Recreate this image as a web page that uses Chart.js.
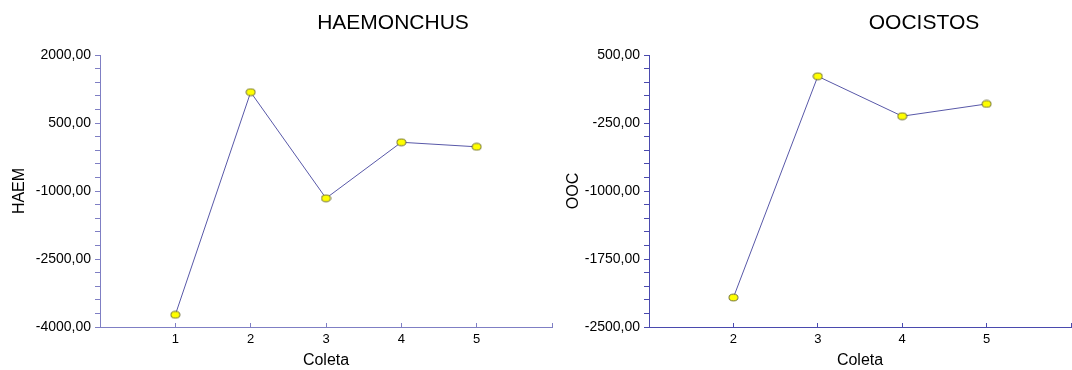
<!DOCTYPE html>
<html>
<head>
<meta charset="utf-8">
<script src="https://cdn.jsdelivr.net/npm/chart.js@4/dist/chart.umd.min.js"></script>
<style>
  html, body { margin: 0; padding: 0; background: #ffffff; overflow: hidden; width: 1072px; height: 370px; }
  canvas { position: absolute; top: 0; }
  #haem { left: 0; }
  #ooc { left: 560px; }
</style>
</head>
<body>
<canvas id="haem" width="570" height="370"></canvas>
<canvas id="ooc" width="520" height="370"></canvas>
<script>
// Collection number (Coleta) for each panel
const haemColeta = [1, 2, 3, 4, 5];
const oocColeta = [2, 3, 4, 5];

// Values per collection
const haemValues = [-3730, 1180, -1160, 75, -25];
const oocValues = [-2175, 265, -175, -40];

// Panel titles and axis titles
const haemTitle = 'HAEMONCHUS';
const oocTitle = 'OOCISTOS';
const haemAxisTitle = 'HAEM';
const oocAxisTitle = 'OOC';
const xAxisTitle = 'Coleta';

const FONT = "'Liberation Sans', Arial, sans-serif";

// Yellow elliptical marker with a dark outline
function makeMarker() {
  const c = document.createElement('canvas');
  c.width = 11; c.height = 9;
  const g = c.getContext('2d');
  g.beginPath();
  g.ellipse(5.5, 4.5, 4.5, 3.4, 0, 0, Math.PI * 2);
  g.fillStyle = '#ffff00';
  g.fill();
  g.lineWidth = 1;
  g.strokeStyle = '#6e6e3c';
  g.stroke();
  return c;
}
const marker = makeMarker();

// Draws the panel heading at a fixed spot above the plot
const panelTitle = {
  id: 'panelTitle',
  afterDraw(chart, args, opts) {
    const ctx = chart.ctx;
    ctx.save();
    ctx.font = '21px ' + FONT;
    ctx.fillStyle = '#000000';
    ctx.textAlign = 'center';
    ctx.textBaseline = 'alphabetic';
    ctx.fillText(opts.text, opts.x, opts.y);
    ctx.restore();
  }
};

function fmt(v) {
  return v.toFixed(2).replace('.', ',');
}

function buildChart(id, xs, ys, cfg) {
  const points = xs.map((x, i) => ({ x: x, y: ys[i] }));
  return new Chart(document.getElementById(id), {
    type: 'line',
    data: {
      datasets: [{
        data: points,
        borderColor: '#5858a8',
        borderWidth: 1,
        pointStyle: marker,
        pointRadius: 5,
        pointHoverRadius: 5,
        tension: 0,
        fill: false
      }]
    },
    plugins: [panelTitle],
    options: {
      responsive: false,
      animation: false,
      events: [],
      layout: { padding: { top: 55, right: cfg.padRight, bottom: 0, left: 0 } },
      plugins: {
        legend: { display: false },
        tooltip: { enabled: false },
        title: { display: false },
        panelTitle: { text: cfg.title, x: cfg.titleX, y: 29 }
      },
      scales: {
        x: {
          type: 'linear',
          min: cfg.xMin,
          max: 6,
          afterFit: s => { s.height = 43; },
          grid: {
            drawOnChartArea: false,
            drawTicks: true,
            tickLength: -4,
            color: cfg.axisColor,
            lineWidth: 1
          },
          border: { color: cfg.axisColor, width: 1 },
          ticks: {
            stepSize: 1,
            autoSkip: false,
            maxRotation: 0,
            padding: 9,
            color: '#000000',
            font: { family: FONT, size: 13 },
            callback: v => (v > cfg.xMin && v < 6) ? String(v) : ''
          },
          title: {
            display: true,
            text: xAxisTitle,
            color: '#000000',
            font: { family: FONT, size: 16 },
            padding: { top: 1, bottom: 0 }
          }
        },
        y: {
          type: 'linear',
          min: cfg.yMin,
          max: cfg.yMax,
          afterFit: s => { s.width = cfg.yWidth; },
          grid: {
            drawOnChartArea: false,
            drawTicks: true,
            tickLength: 5,
            color: cfg.axisColor,
            lineWidth: 1
          },
          border: { color: cfg.axisColor, width: 1 },
          ticks: {
            stepSize: cfg.minorStep,
            maxTicksLimit: 40,
            autoSkip: false,
            padding: 4,
            color: '#000000',
            font: { family: FONT, size: 14 },
            callback: v => {
              const k = Math.round((v - cfg.yMin) / cfg.minorStep);
              return k % 5 === 0 ? fmt(v) : '';
            }
          },
          title: {
            display: true,
            text: cfg.axisTitle,
            color: '#000000',
            font: { family: FONT, size: 16 },
            padding: { top: cfg.yTitlePad, bottom: 0 }
          }
        }
      }
    }
  });
}

buildChart('haem', haemColeta, haemValues, {
  title: haemTitle, titleX: 393, axisTitle: haemAxisTitle,
  xMin: 0, yMin: -4000, yMax: 2000, minorStep: 300,
  yWidth: 100, padRight: 18, yTitlePad: 10, axisColor: '#7f7fc4'
});

buildChart('ooc', oocColeta, oocValues, {
  title: oocTitle, titleX: 364, axisTitle: oocAxisTitle,
  xMin: 1, yMin: -2500, yMax: 500, minorStep: 150,
  yWidth: 89, padRight: 0, yTitlePad: 4, axisColor: '#4a4aae'
});
</script>
</body>
</html>
